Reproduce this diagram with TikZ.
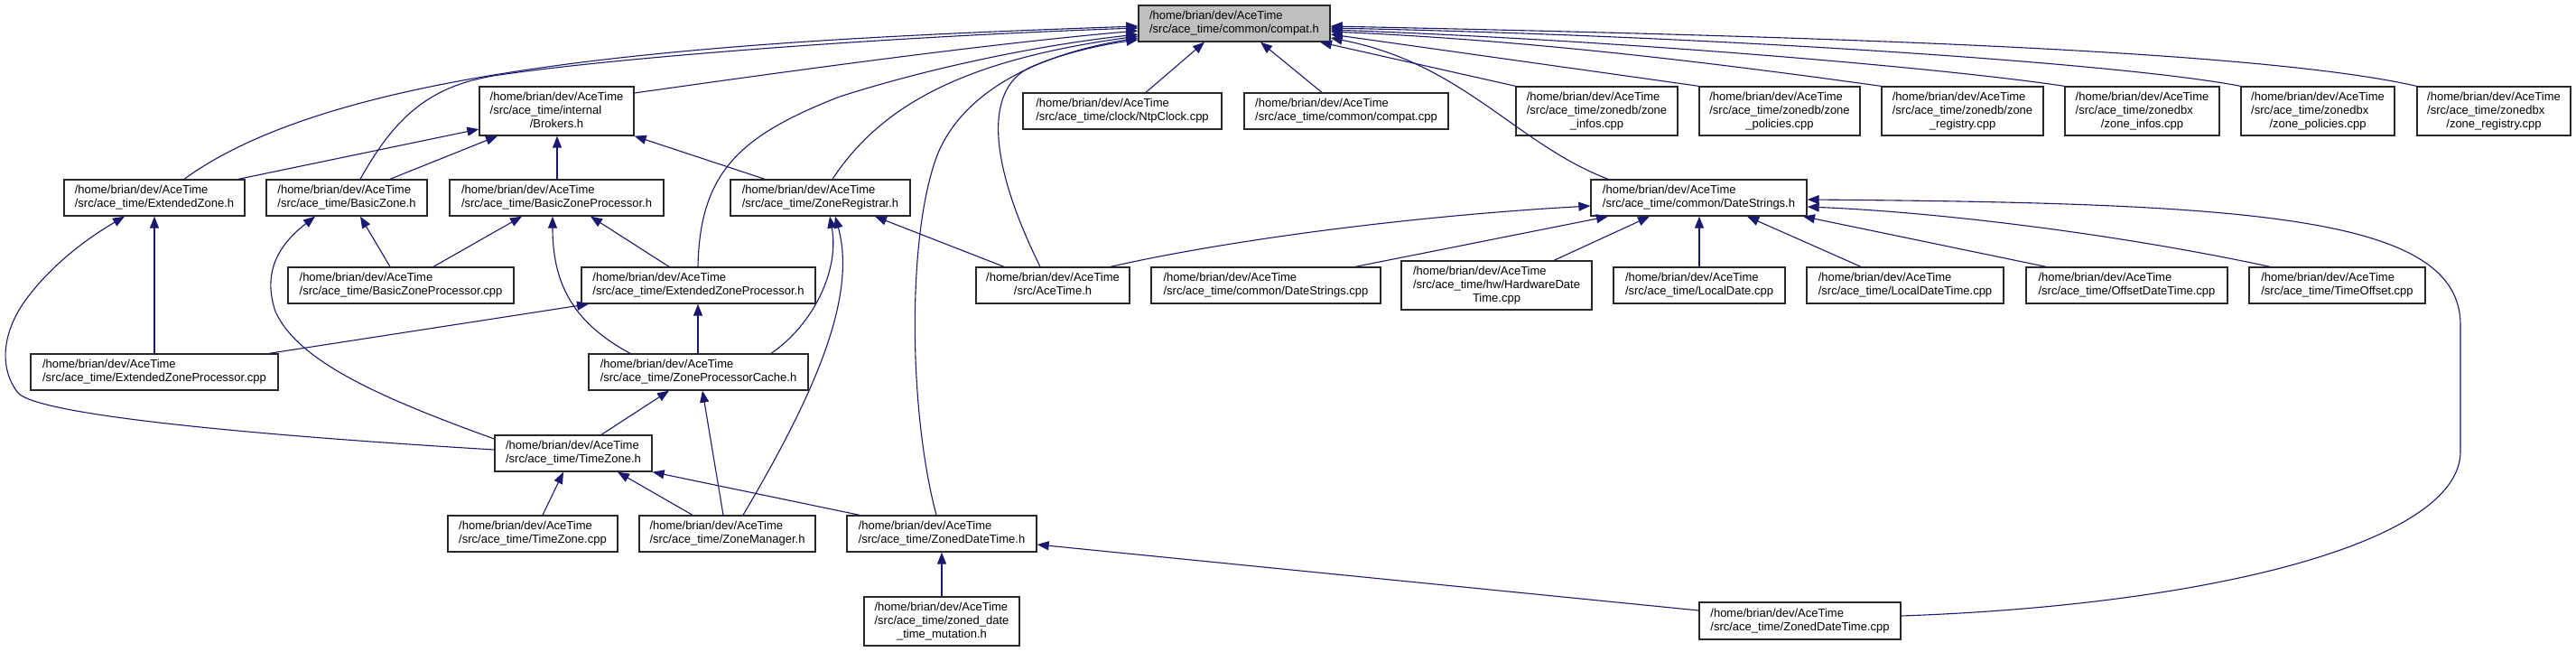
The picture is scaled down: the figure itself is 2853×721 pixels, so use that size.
\documentclass[tikz,border=0pt]{standalone}
\usepackage{fontspec}
\setmainfont{Liberation Sans}
\usetikzlibrary{arrows.meta}
\definecolor{edgeblue}{RGB}{25,25,112}
\definecolor{compatgray}{RGB}{191,191,191}
\definecolor{boxline}{RGB}{40,40,40}
\newcommand{\lblB}[2]{\begin{tabular}{@{}l@{}}#1\\\multicolumn{1}{@{}c@{}}{#2}\end{tabular}}
\newcommand{\lblC}[3]{\begin{tabular}{@{}l@{}}#1\\#2\\\multicolumn{1}{@{}c@{}}{#3}\end{tabular}}
\newcommand{\hm}{/home/brian/dev/AceTime}
\newcommand{\bx}[7][]{\node[box,#1,minimum width={#5-#3},minimum height={#6-#4}] (#2) at ({(#3+#5)/2},{(#4+#6)/2}) {#7};}
\tikzset{
  box/.style={draw=boxline, line width=1.3pt, fill=white, inner sep=0pt, font=\fontsize{13}{15}\selectfont},
  dep/.style={draw=edgeblue, line width=1.1pt, -{Triangle[length=13pt,width=10pt]}}
}
\begin{document}
\begin{tikzpicture}[x=1pt,y=-1pt]
\useasboundingbox[fill=white] (0,0) rectangle (2853,721);
% row 0
\bx[fill=compatgray]{compat}{1261}{6}{1473}{46}{\lblB{\hm}{/src/ace\_time/common/compat.h}}
% row 1
\bx{brokers}{531}{96}{702}{150}{\lblC{\hm}{/src/ace\_time/internal}{/Brokers.h}}
\bx{ntp}{1133}{103}{1353}{143}{\lblB{\hm}{/src/ace\_time/clock/NtpClock.cpp}}
\bx{compatcpp}{1378}{103}{1604}{143}{\lblB{\hm}{/src/ace\_time/common/compat.cpp}}
\bx{zdbinfos}{1679}{96}{1858}{150}{\lblC{\hm}{/src/ace\_time/zonedb/zone}{\_infos.cpp}}
\bx{zdbpol}{1882}{96}{2060}{150}{\lblC{\hm}{/src/ace\_time/zonedb/zone}{\_policies.cpp}}
\bx{zdbreg}{2084}{96}{2263}{150}{\lblC{\hm}{/src/ace\_time/zonedb/zone}{\_registry.cpp}}
\bx{zdxinfos}{2287}{96}{2458}{150}{\lblC{\hm}{/src/ace\_time/zonedbx}{/zone\_infos.cpp}}
\bx{zdxpol}{2482}{96}{2652}{150}{\lblC{\hm}{/src/ace\_time/zonedbx}{/zone\_policies.cpp}}
\bx{zdxreg}{2677}{96}{2847}{150}{\lblC{\hm}{/src/ace\_time/zonedbx}{/zone\_registry.cpp}}
% row 2
\bx{ezh}{71}{199}{271}{239}{\lblB{\hm}{/src/ace\_time/ExtendedZone.h}}
\bx{bzh}{295}{199}{473}{239}{\lblB{\hm}{/src/ace\_time/BasicZone.h}}
\bx{bzph}{498}{199}{735}{239}{\lblB{\hm}{/src/ace\_time/BasicZoneProcessor.h}}
\bx{zrh}{809}{199}{1008}{239}{\lblB{\hm}{/src/ace\_time/ZoneRegistrar.h}}
\bx{dsh}{1762}{199}{2001}{239}{\lblB{\hm}{/src/ace\_time/common/DateStrings.h}}
% row 3
\bx{bzpcpp}{319}{296}{569}{336}{\lblB{\hm}{/src/ace\_time/BasicZoneProcessor.cpp}}
\bx{ezph}{644}{296}{903}{336}{\lblB{\hm}{/src/ace\_time/ExtendedZoneProcessor.h}}
\bx{aceh}{1081}{296}{1251}{336}{\lblB{\hm}{/src/AceTime.h}}
\bx{dscpp}{1275}{296}{1529}{336}{\lblB{\hm}{/src/ace\_time/common/DateStrings.cpp}}
\bx{hwdt}{1552}{289}{1763}{343}{\lblC{\hm}{/src/ace\_time/hw/HardwareDate}{Time.cpp}}
\bx{ldcpp}{1787}{296}{1977}{336}{\lblB{\hm}{/src/ace\_time/LocalDate.cpp}}
\bx{ldtcpp}{2001}{296}{2219}{336}{\lblB{\hm}{/src/ace\_time/LocalDateTime.cpp}}
\bx{odtcpp}{2244}{296}{2467}{336}{\lblB{\hm}{/src/ace\_time/OffsetDateTime.cpp}}
\bx{tocpp}{2491}{296}{2686}{336}{\lblB{\hm}{/src/ace\_time/TimeOffset.cpp}}
% row 4
\bx{ezpcpp}{34}{392}{308}{432}{\lblB{\hm}{/src/ace\_time/ExtendedZoneProcessor.cpp}}
\bx{zpch}{652}{392}{895}{432}{\lblB{\hm}{/src/ace\_time/ZoneProcessorCache.h}}
% row 5
\bx{tzh}{548}{482}{722}{522}{\lblB{\hm}{/src/ace\_time/TimeZone.h}}
% row 6
\bx{tzcpp}{496}{571}{684}{611}{\lblB{\hm}{/src/ace\_time/TimeZone.cpp}}
\bx{zmh}{708}{571}{903}{611}{\lblB{\hm}{/src/ace\_time/ZoneManager.h}}
\bx{zdth}{938}{571}{1148}{611}{\lblB{\hm}{/src/ace\_time/ZonedDateTime.h}}
% row 7
\bx{zdtmut}{957}{661}{1129}{715}{\lblC{\hm}{/src/ace\_time/zoned\_date}{\_time\_mutation.h}}
\bx{zdtcpp}{1882}{667}{2105}{708}{\lblB{\hm}{/src/ace\_time/ZonedDateTime.cpp}}

% edges into compat.h
\draw[dep] (ezh.north -| 204,0) .. controls (380,70) and (800,45) .. (compat.west |- 0,29);
\draw[dep] (bzh.north -| 399,0) .. controls (440,125) and (480,92) .. (560,82) .. controls (700,62) and (1000,40) .. (compat.west |- 0,31);
\draw[dep] (brokers.east |- 0,103) .. controls (900,75) and (1100,48) .. (compat.west |- 0,34);
\draw[dep] (ezph.north -| 773,0) .. controls (775,190) and (820,150) .. (930,107) .. controls (1030,75) and (1150,50) .. (compat.west |- 0,38);
\draw[dep] (zrh.north -| 922,0) .. controls (980,110) and (1080,65) .. (compat.west |- 0,40);
\draw[dep] (zdth.north -| 1037,0) .. controls (1005,450) and (1005,250) .. (1040,167) .. controls (1070,100) and (1150,60) .. (compat.west |- 0,42);
\draw[dep] (aceh.north -| 1152,0) .. controls (1095,180) and (1090,100) .. (1140,75) .. controls (1180,57) and (1230,48) .. (compat.west |- 0,44);
\draw[dep] (ntp.north -| 1269,0) -- (compat.south -| 1334,0);
\draw[dep] (compatcpp.north -| 1464,0) -- (compat.south -| 1396,0);
\draw[dep] (zdbinfos.north west) -- (compat.south -| 1462,0);
\draw[dep] (zdbpol.north west) -- (compat.east |- 0,38);
\draw[dep] (zdbreg.north west) .. controls (1900,70) and (1700,45) .. (compat.east |- 0,35);
\draw[dep] (zdxinfos.north west) .. controls (2150,75) and (1800,45) .. (compat.east |- 0,33);
\draw[dep] (zdxpol.north west) .. controls (2350,70) and (1900,40) .. (compat.east |- 0,31);
\draw[dep] (zdxreg.north west) .. controls (2500,55) and (2000,40) .. (compat.east |- 0,29);
\draw[dep] (dsh.north -| 1781,0) .. controls (1680,160) and (1620,70) .. (compat.east |- 0,42);

% edges into Brokers.h
\draw[dep] (ezh.north -| 264,0) -- (brokers.west |- 0,143);
\draw[dep] (bzh.north -| 432,0) -- (brokers.south -| 551,0);
\draw[dep] (bzph.north -| 617,0) -- (brokers.south -| 617,0);
\draw[dep] (zrh.north -| 847,0) -- (brokers.south east);

% edges into ExtendedZone.h
\draw[dep] (ezpcpp.north -| 171,0) -- (ezh.south -| 171,0);
\draw[dep] (tzh.west |- 0,498) .. controls (250,480) and (40,458) .. (20,435) .. controls (0,410) and (0,370) .. (30,330) .. controls (60,290) and (100,262) .. (ezh.south -| 138,0);

% edges into BasicZone.h
\draw[dep] (bzpcpp.north -| 432,0) -- (bzh.south -| 399,0);
\draw[dep] (tzh.west |- 0,486) .. controls (420,440) and (330,400) .. (305,345) .. controls (290,300) and (310,270) .. (bzh.south -| 349,0);

% edges into BasicZoneProcessor.h
\draw[dep] (bzpcpp.north -| 480,0) -- (bzph.south -| 578,0);
\draw[dep] (ezph.north -| 741,0) -- (bzph.south -| 654,0);
\draw[dep] (zpch.north -| 698,0) .. controls (640,360) and (612,320) .. (bzph.south -| 612,0);

% edges into ExtendedZoneProcessor.h
\draw[dep] (ezpcpp.north -| 298,0) -- (ezph.south -| 652,0);
\draw[dep] (zpch.north -| 773,0) -- (ezph.south -| 773,0);

% edges into ZoneRegistrar.h
\draw[dep] (aceh.north -| 1112,0) -- (zrh.south -| 969,0);
\draw[dep] (zpch.north -| 854,0) .. controls (900,360) and (930,300) .. (zrh.south -| 919,0);
\draw[dep] (zmh.north -| 823,0) .. controls (900,440) and (950,330) .. (zrh.south -| 925,0);

% edges into DateStrings.h
\draw[dep] (aceh.north -| 1230,0) .. controls (1350,268) and (1550,240) .. (dsh.west |- 0,228);
\draw[dep] (dscpp.north -| 1501,0) -- (dsh.south -| 1781,0);
\draw[dep] (hwdt.north -| 1721,0) -- (dsh.south -| 1827,0);
\draw[dep] (ldcpp.north -| 1882,0) -- (dsh.south -| 1882,0);
\draw[dep] (ldtcpp.north -| 2061,0) -- (dsh.south -| 1935,0);
\draw[dep] (odtcpp.north -| 2266,0) -- (dsh.south -| 1997,0);
\draw[dep] (tocpp.north -| 2514,0) .. controls (2350,260) and (2150,235) .. (dsh.east |- 0,229);
\draw[dep] (zdtcpp.east |- 0,682) .. controls (2450,670) and (2725,600) .. (2725,500) -- (2725,360) .. controls (2725,240) and (2500,225) .. (dsh.east |- 0,221);

% edges into ZoneProcessorCache.h
\draw[dep] (tzh.north -| 666,0) -- (zpch.south -| 741,0);
\draw[dep] (zmh.north -| 801,0) -- (zpch.south -| 778,0);

% edges into TimeZone.h
\draw[dep] (tzcpp.north -| 601,0) -- (tzh.south -| 624,0);
\draw[dep] (zmh.north -| 767,0) -- (tzh.south -| 684,0);
\draw[dep] (zdth.north -| 952,0) -- (tzh.south east);

% edges into ZonedDateTime.h
\draw[dep] (zdtmut.north -| 1043,0) -- (zdth.south -| 1043,0);
\draw[dep] (zdtcpp.west |- 0,676) -- (zdth.east |- 0,603);
\end{tikzpicture}
\end{document}
